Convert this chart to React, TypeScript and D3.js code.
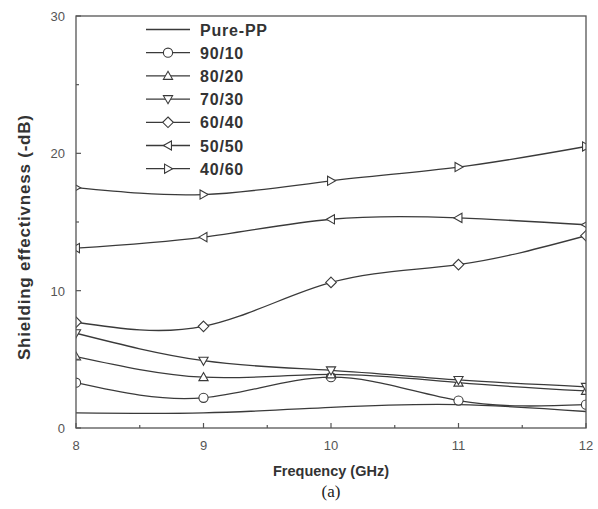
import React from "react";
import * as d3 from "d3";

const freqs = [8, 9, 10, 11, 12];
const seriesNames = ["Pure-PP", "90/10", "80/20", "70/30", "60/40", "50/50", "40/60"];
const markerTypes = ["none", "circle", "up", "down", "diamond", "left", "right"];
const purePP = [1.1, 1.1, 1.5, 1.7, 1.2];
const s9010 = [3.3, 2.2, 3.7, 2.0, 1.7];
const s8020 = [5.2, 3.7, 3.9, 3.3, 2.7];
const s7030 = [6.9, 4.9, 4.2, 3.5, 3.0];
const s6040 = [7.7, 7.4, 10.6, 11.9, 14.0];
const s5050 = [13.1, 13.9, 15.2, 15.3, 14.8];
const s4060 = [17.5, 17.0, 18.0, 19.0, 20.5];
const seriesValues = [purePP, s9010, s8020, s7030, s6040, s5050, s4060];
const xTicks = [8, 9, 10, 11, 12];
const yTicks = [0, 10, 20, 30];

const W = 598, H = 509;
const L = 76, R = 586, T = 16, B = 428;

function markerPath(type: string, r: number): string {
  switch (type) {
    case "circle":
      return `M${-r},0A${r},${r} 0 1,0 ${r},0A${r},${r} 0 1,0 ${-r},0Z`;
    case "up":
      return `M0,${-r}L${r},${r * 0.75}L${-r},${r * 0.75}Z`;
    case "down":
      return `M0,${r}L${r},${-r * 0.75}L${-r},${-r * 0.75}Z`;
    case "diamond":
      return `M0,${-r * 1.15}L${r * 1.15},0L0,${r * 1.15}L${-r * 1.15},0Z`;
    case "left":
      return `M${-r},0L${r * 0.75},${-r}L${r * 0.75},${r}Z`;
    case "right":
      return `M${r},0L${-r * 0.75},${-r}L${-r * 0.75},${r}Z`;
    default:
      return "";
  }
}

const SANS = "Liberation Sans, Arial, sans-serif";

export default function App() {
  const x = d3.scaleLinear().domain([8, 12]).range([L, R]);
  const y = d3.scaleLinear().domain([0, 30]).range([B, T]);
  const line = d3
    .line<number>()
    .x((_, i) => x(freqs[i]))
    .y((v) => y(v))
    .curve(d3.curveNatural);
  const stroke = "#3a3a3a";
  const xMinor = d3.range(8, 12.01, 0.5);
  const yMinor = d3.range(0, 30.01, 5);
  const legendY0 = 29.5;
  const legendDy = 23.2;
  return (
    <div style={{ position: "absolute", left: 0, top: 0 }}>
      <svg width={W} height={H} style={{ display: "block", background: "#fff" }}>
        <defs>
          <clipPath id="plotClip">
            <rect x={L} y={T} width={R - L} height={B - T} />
          </clipPath>
        </defs>
        <rect x={0} y={0} width={W} height={H} fill="#fff" />
        <g clipPath="url(#plotClip)">
          {seriesValues.map((vals, si) => (
            <g key={si}>
              <path d={line(vals) || ""} fill="none" stroke={stroke} strokeWidth={1.3} />
              {markerTypes[si] !== "none" &&
                vals.map((v, i) => (
                  <path
                    key={i}
                    d={markerPath(markerTypes[si], 4.6)}
                    transform={`translate(${x(freqs[i])},${y(v)})`}
                    fill="#fff"
                    stroke={stroke}
                    strokeWidth={1.1}
                  />
                ))}
            </g>
          ))}
        </g>
        <rect x={L} y={T} width={R - L} height={B - T} fill="none" stroke="#555" strokeWidth={1.3} />
        {xMinor.map((t, i) => {
          const major = Math.abs(t - Math.round(t)) < 1e-6;
          return (
            <line key={i} x1={x(t)} x2={x(t)} y1={B} y2={B - (major ? 5 : 3)} stroke="#555" strokeWidth={1.2} />
          );
        })}
        {yMinor.map((t, i) => {
          const major = t % 10 === 0;
          return (
            <line key={i} x1={L} x2={L + (major ? 5 : 3)} y1={y(t)} y2={y(t)} stroke="#555" strokeWidth={1.2} />
          );
        })}
        {xTicks.map((t) => (
          <text key={t} x={x(t)} y={450} textAnchor="middle" fontFamily={SANS} fontSize={13} fill="#555">
            {t}
          </text>
        ))}
        {yTicks.map((t) => (
          <text key={t} x={L - 11} y={y(t) + 5} textAnchor="end" fontFamily={SANS} fontSize={13} fill="#555">
            {t}
          </text>
        ))}
        <text x={331} y={476} textAnchor="middle" fontFamily={SANS} fontWeight="bold" fontSize={14.5} fill="#333" textLength={116} lengthAdjust="spacing">
          Frequency (GHz)
        </text>
        <text
          transform={`translate(30,237.5) rotate(-90)`}
          textAnchor="middle"
          fontFamily={SANS}
          fontWeight="bold"
          fontSize={17}
          fill="#333"
          textLength={245}
          lengthAdjust="spacing"
        >
          Shielding effectivness (-dB)
        </text>
        <text x={331} y={497} textAnchor="middle" fontFamily="Liberation Serif, Times New Roman, serif" fontSize={17} fill="#222">
          (a)
        </text>
        {seriesNames.map((name, i) => {
          const ly = legendY0 + i * legendDy;
          return (
            <g key={name}>
              <line x1={146} x2={190} y1={ly} y2={ly} stroke={stroke} strokeWidth={1.3} />
              {markerTypes[i] !== "none" && (
                <path d={markerPath(markerTypes[i], 4.6)} transform={`translate(168,${ly})`} fill="#fff" stroke={stroke} strokeWidth={1.1} />
              )}
              <text x={200} y={ly + 6} fontFamily={SANS} fontWeight="bold" fontSize={16} letterSpacing={0.8} fill="#333">
                {name}
              </text>
            </g>
          );
        })}
      </svg>
    </div>
  );
}
